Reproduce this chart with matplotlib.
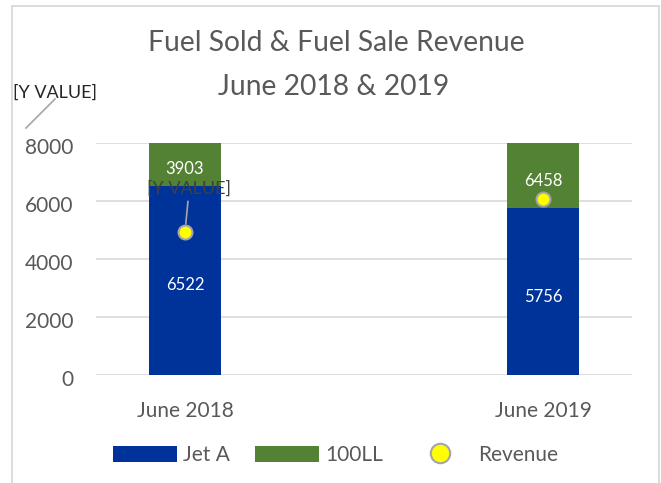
import matplotlib
matplotlib.use("Agg")
import matplotlib.pyplot as plt
import matplotlib.transforms as mtransforms
from matplotlib.patches import Patch, Rectangle
from matplotlib.lines import Line2D

plt.rcParams['font.family'] = ['Lato', 'DejaVu Sans']

categories = ["June 2018", "June 2019"]
jet_a = [6522, 5756]
ll100 = [3903, 6458]
revenue = [4930, 6070]
yticks = [0, 2000, 4000, 6000, 8000]
ymax = 8000

W, H = 661, 483
fig = plt.figure(figsize=(W / 100, H / 100), dpi=100)

def fx(px):
    return px / W

def fy(py):
    return 1 - py / H

# chart border
fig.patches.append(Rectangle((fx(12), fy(495)), fx(659) - fx(12), fy(6) - fy(495),
                             transform=fig.transFigure, fill=False,
                             edgecolor='#d9d9d9', linewidth=1.3, clip_on=False))

ax = fig.add_axes([fx(96), fy(375), fx(632) - fx(96), fy(143) - fy(375)])
x = list(range(len(categories)))
blue = '#003399'
green = '#548235'
gray = '#595959'
bw = 0.201

ax.bar(x, jet_a, width=bw, color=blue, zorder=2, label='Jet A')
ax.bar(x, ll100, width=bw, bottom=jet_a, color=green, zorder=2, label='100LL')
ax.plot(x, revenue, linestyle='none', marker='o', markersize=10,
        markerfacecolor='#ffff00', markeredgecolor='#a5a5a5', markeredgewidth=1.5,
        zorder=4, clip_on=False)

ax.set_xlim(-0.2486, 1.2486)
ax.set_ylim(0, ymax)
ax.set_yticks(yticks)
ax.set_yticklabels([str(v) for v in yticks])
ax.set_xticks(x)
ax.set_xticklabels(categories)
ax.tick_params(axis='y', length=0, pad=16.5, labelsize=15, labelcolor=gray)
ax.tick_params(axis='x', length=0, pad=19, labelsize=15, labelcolor=gray)
off = mtransforms.ScaledTranslation(0, -3 / 100, fig.dpi_scale_trans)
for lab in ax.get_yticklabels():
    lab.set_transform(lab.get_transform() + off)
for s in ax.spines.values():
    s.set_visible(False)
ax.yaxis.grid(True, color='#d9d9d9', linewidth=1.2, zorder=0)
ax.set_axisbelow(True)

# data labels at centers of visible segments
for i in x:
    j_top = min(jet_a[i], ymax)
    ax.annotate(str(jet_a[i]), xy=(i, j_top / 2), xytext=(0, -3.6),
                textcoords='offset points', ha='center', va='center',
                color='white', fontsize=12, zorder=5)
    l_top = min(jet_a[i] + ll100[i], ymax)
    ax.annotate(str(ll100[i]), xy=(i, (jet_a[i] + l_top) / 2), xytext=(0, -3.6),
                textcoords='offset points', ha='center', va='center',
                color='white', fontsize=12, zorder=5)

# revenue label with leader line (2018)
ax.annotate('[Y VALUE]', xy=(x[0], revenue[0]), xytext=(3, 31), textcoords='offset points',
            ha='center', va='center', fontsize=13, color='#404040', zorder=6,
            arrowprops=dict(arrowstyle='-', color='#a6a6a6', lw=1.2, shrinkA=1, shrinkB=6))

# moved revenue label (top-left)
fig.text(fx(55), fy(93), '[Y VALUE]', ha='center', va='center', fontsize=13, color='#262626')
fig.add_artist(Line2D([fx(26), fx(55)], [fy(128), fy(99)], transform=fig.transFigure,
                      color='#a6a6a6', linewidth=1.2))

# title
fig.text(fx(336), fy(51), 'Fuel Sold & Fuel Sale Revenue', ha='center', va='baseline',
         fontsize=20.3, color=gray)
fig.text(fx(334), fy(95), 'June 2018 & 2019', ha='center', va='baseline',
         fontsize=20.3, color=gray)

handles = [Patch(facecolor=blue, edgecolor='none'),
           Patch(facecolor=green, edgecolor='none'),
           Line2D([], [], linestyle='none', marker='o', markersize=14,
                  markerfacecolor='#ffff00', markeredgecolor='#a5a5a5', markeredgewidth=1.5)]
leg = fig.legend(handles, ['Jet A', '100LL', 'Revenue'], loc='center',
                 bbox_to_anchor=(fx(335.5), fy(455)), ncol=3, frameon=False,
                 fontsize=15, handlelength=3.07, handleheight=0.77,
                 handletextpad=0.3, columnspacing=1.2, borderpad=0, labelcolor=gray)

fig.savefig('out.png', dpi=100)
